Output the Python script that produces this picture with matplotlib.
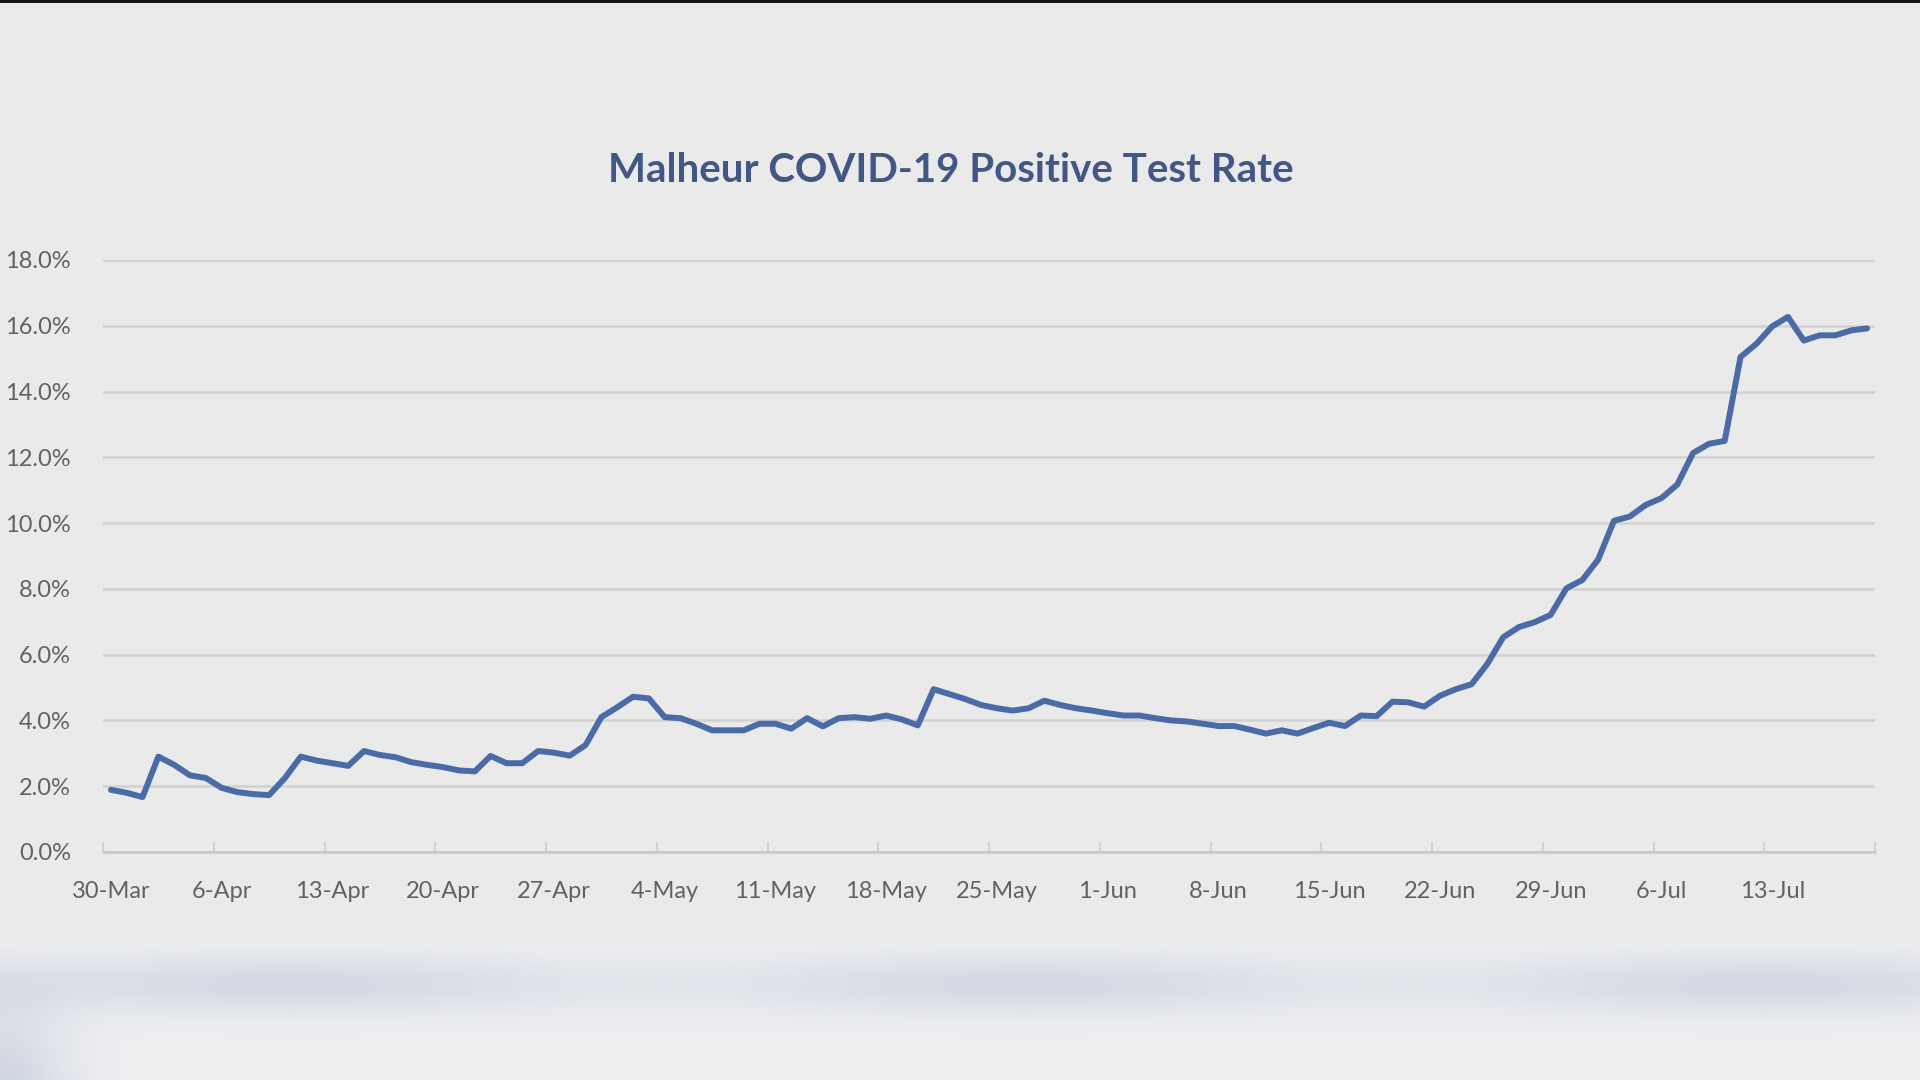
import numpy as np
import matplotlib
matplotlib.use('Agg')
from matplotlib import pyplot as plt

# positive test rate (%), one value per day from 30-Mar to 19-Jul
rate = [1.89, 1.80, 1.67, 2.90, 2.65, 2.33, 2.25, 1.95, 1.82, 1.76,
        1.73, 2.25, 2.90, 2.78, 2.70, 2.62, 3.07, 2.95, 2.88, 2.73,
        2.65, 2.58, 2.48, 2.45, 2.92, 2.70, 2.70, 3.07, 3.02, 2.93,
        3.25, 4.10, 4.40, 4.72, 4.67, 4.10, 4.07, 3.90, 3.70, 3.70,
        3.70, 3.90, 3.90, 3.75, 4.07, 3.82, 4.07, 4.10, 4.05, 4.15,
        4.03, 3.85, 4.95, 4.80, 4.65, 4.47, 4.37, 4.30, 4.37, 4.60,
        4.47, 4.37, 4.30, 4.22, 4.15, 4.15, 4.07, 4.00, 3.97, 3.90,
        3.83, 3.83, 3.72, 3.60, 3.70, 3.60, 3.77, 3.93, 3.83, 4.15,
        4.13, 4.57, 4.55, 4.42, 4.75, 4.95, 5.10, 5.72, 6.53, 6.84,
        6.99, 7.21, 8.02, 8.27, 8.89, 10.07, 10.20, 10.55, 10.76, 11.17,
        12.13, 12.41, 12.50, 15.05, 15.45, 15.98, 16.27, 15.55, 15.71, 15.71,
        15.86, 15.92]

week_labels = ['30-Mar', '6-Apr', '13-Apr', '20-Apr', '27-Apr', '4-May', '11-May',
               '18-May', '25-May', '1-Jun', '8-Jun', '15-Jun', '22-Jun', '29-Jun',
               '6-Jul', '13-Jul']
y_ticks = [0, 2, 4, 6, 8, 10, 12, 14, 16, 18]

bg = '#EAEAEA'
label_grey = '#626262'
grid_grey = '#D2D2D2'
line_blue = '#4B6BA7'

days = np.arange(len(rate))

fig = plt.figure(figsize=(19.2, 10.8), dpi=100, facecolor=bg)

# dark strip along the top edge
top = fig.add_axes([0, 1 - 3 / 1080, 1, 3 / 1080])
top.set_axis_off()
top.add_patch(plt.Rectangle((0, 0), 1, 1, color='#141414', transform=top.transAxes))

# blurred backdrop below the chart
low = fig.add_axes([0, 0, 1, 137 / 1080])
low.set_axis_off()
gx = np.linspace(0, 1, 400)
gy = np.linspace(0, 1, 80)
X, Y = np.meshgrid(gx, gy)
shade = (0.6 * np.exp(-((Y - 0.3) / 0.22) ** 2) * (0.45 + 0.55 * np.cos(2.6 * np.pi * (X - 0.15)) ** 2)
         + 0.7 * np.exp(-(X / 0.035) ** 2) * Y)
low.imshow(shade, cmap=matplotlib.colors.LinearSegmentedColormap.from_list(
    'bd', ['#EEEFF1', '#C2CADA']), vmin=0, vmax=1, aspect='auto', origin='upper',
    extent=[0, 1, 0, 1])

ax = fig.add_axes([103 / 1920, 1 - 852 / 1080, (1875 - 103) / 1920, (852 - 260) / 1080])
ax.set_facecolor(bg)
ax.plot(days, rate, color=line_blue, linewidth=4.3, solid_joinstyle='round',
        solid_capstyle='round', zorder=3)

ax.set_xlim(-0.5, len(rate) - 0.5)
ax.set_ylim(0, 18)
ax.set_yticks(y_ticks)
ax.set_yticklabels(['{:.1f}%'.format(v) for v in y_ticks])
ax.grid(axis='y', color=grid_grey, linewidth=1.8, zorder=0)
ax.set_axisbelow(True)

# labels sit on the dates, tick marks on the week boundaries
ax.set_xticks(np.arange(0, len(rate), 7))
ax.set_xticklabels(week_labels)
ax.set_xticks(np.arange(-0.5, len(rate), 7), minor=True)
ax.tick_params(axis='x', which='major', length=0, pad=21, labelsize=17, labelcolor=label_grey)
ax.tick_params(axis='x', which='minor', length=7, width=1.5, color=grid_grey, direction='in')
ax.tick_params(axis='y', length=0, pad=23, labelsize=17, labelcolor=label_grey)
for lab in ax.get_xticklabels() + ax.get_yticklabels():
    lab.set_family('Lato')

for side in ['top', 'right', 'left']:
    ax.spines[side].set_visible(False)
ax.spines['bottom'].set_color('#C8C8C8')
ax.spines['bottom'].set_linewidth(1.8)

fig.text(951 / 1920, 1 - 171 / 1080, 'Malheur COVID-19 Positive Test Rate', ha='center', va='center',
         fontsize=29, fontweight='bold', family='Lato', color='#425785')

fig.savefig('out.png', dpi=100, facecolor=bg)
